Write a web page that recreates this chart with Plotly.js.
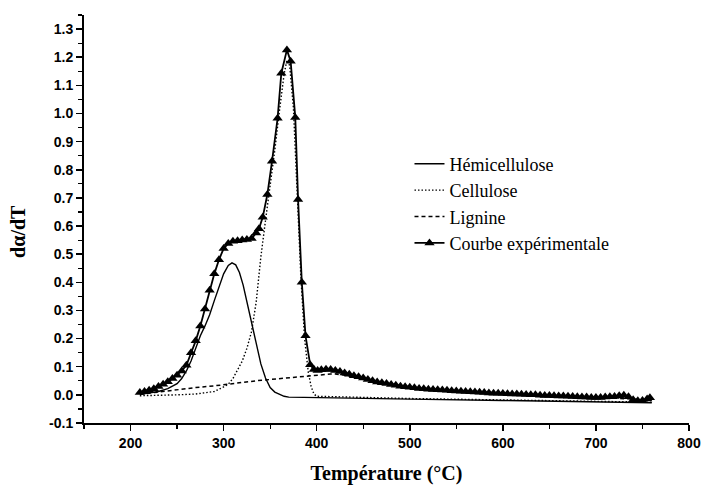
<!DOCTYPE html>
<html>
<head>
<meta charset="utf-8">
<script src="https://cdn.plot.ly/plotly-3.0.1.min.js"></script>
<style>
html,body{margin:0;padding:0;background:#fff;}
#chart{width:708px;height:492px;}
</style>
</head>
<body>
<div id="chart"></div>
<script>
// Experimental curve (triangles)
const expT = [210,215,220,225,230,235,240,245,250,255,260,265,270,275,280,285,290,295,300,305,310,315,320,325,330,335,338,342,347,352,358,362,368,372,377,380,384,388,393,397,401,405,410,415,420,425,430,435,440,445,450,455,460,465,470,475,480,485,490,495,500,505,510,515,520,525,530,535,540,545,550,555,560,565,570,575,580,585,590,595,600,605,610,615,620,625,630,635,640,645,650,655,660,665,670,675,680,685,690,695,700,705,710,715,720,725,730,735,740,745,750,755,758];
const expY = [0.008,0.012,0.016,0.022,0.030,0.038,0.047,0.058,0.070,0.085,0.105,0.150,0.192,0.245,0.305,0.372,0.430,0.480,0.520,0.538,0.546,0.548,0.550,0.552,0.556,0.575,0.590,0.631,0.712,0.830,0.983,1.143,1.226,1.186,0.986,0.694,0.400,0.210,0.107,0.090,0.087,0.089,0.091,0.090,0.087,0.083,0.078,0.073,0.068,0.064,0.060,0.055,0.050,0.046,0.043,0.040,0.037,0.034,0.031,0.029,0.027,0.025,0.023,0.022,0.020,0.019,0.018,0.017,0.016,0.015,0.014,0.013,0.012,0.011,0.010,0.009,0.008,0.007,0.006,0.006,0.005,0.004,0.003,0.003,0.002,0.001,0.000,0.000,-0.001,-0.002,-0.002,-0.003,-0.004,-0.004,-0.005,-0.006,-0.007,-0.008,-0.008,-0.009,-0.009,-0.009,-0.008,-0.007,-0.006,-0.003,-0.001,-0.007,-0.017,-0.021,-0.020,-0.015,-0.010];

// Hémicellulose (solid)
const hemT = [210,220,230,240,250,255,260,265,270,275,280,285,290,295,300,305,309,313,317,321,325,330,335,340,345,350,355,360,365,370,400,450,500,600,700,760];
const hemY = [0.002,0.006,0.012,0.022,0.040,0.058,0.085,0.120,0.165,0.210,0.245,0.285,0.335,0.385,0.430,0.460,0.469,0.462,0.435,0.390,0.330,0.255,0.185,0.110,0.060,0.026,0.010,0.001,-0.005,-0.008,-0.010,-0.013,-0.015,-0.020,-0.026,-0.028];

// Cellulose (dotted)
const celT = [210,230,250,270,280,290,300,305,310,315,320,325,330,335,340,345,350,355,360,365,368,371,375,379,383,387,391,394,397,400,450,500,600,700,760];
const celY = [-0.003,-0.002,0.000,0.003,0.007,0.012,0.028,0.038,0.058,0.088,0.120,0.165,0.225,0.330,0.490,0.620,0.740,0.870,1.010,1.140,1.190,1.170,1.020,0.740,0.420,0.200,0.080,0.030,0.003,-0.005,-0.010,-0.013,-0.018,-0.024,-0.026];

// Lignine (dashed)
const ligT = [210,230,250,270,290,305,320,335,350,370,390,405,415,420,430,440,450,460,470,480,490,500,520,540,560,580,600,620,640,660,680,700,720,740,760];
const ligY = [0.002,0.010,0.019,0.026,0.032,0.037,0.044,0.050,0.055,0.061,0.067,0.072,0.074,0.074,0.070,0.062,0.055,0.047,0.040,0.034,0.029,0.025,0.018,0.014,0.010,0.006,0.003,0.000,-0.003,-0.006,-0.009,-0.011,-0.012,-0.015,-0.018];

const names = ['Hémicellulose','Cellulose','Lignine','Courbe expérimentale'];
const xTicks = [200,300,400,500,600,700,800];
const yTicks = [-0.1,0.0,0.1,0.2,0.3,0.4,0.5,0.6,0.7,0.8,0.9,1.0,1.1,1.2,1.3];

const traces = [
  {x: hemT, y: hemY, name: names[0], mode: 'lines', line: {color: '#000', width: 1.4}},
  {x: celT, y: celY, name: names[1], mode: 'lines', line: {color: '#000', width: 1.4, dash: '1.5px,2px'}},
  {x: ligT, y: ligY, name: names[2], mode: 'lines', line: {color: '#000', width: 1.5, dash: '4px,3px'}},
  {x: expT, y: expY, name: names[3], mode: 'lines+markers', line: {color: '#000', width: 1.8},
   marker: {symbol: 'triangle-up', size: 9, color: '#000'}}
];

const tickFont = {family: 'Liberation Sans, Arial, sans-serif', size: 14, color: '#000', weight: 'bold'};

const layout = {
  width: 708, height: 492,
  margin: {l: 84, r: 19, t: 15, b: 69},
  paper_bgcolor: '#fff', plot_bgcolor: '#fff',
  showlegend: true,
  legend: {
    x: 0.538, y: 0.68, xanchor: 'left', yanchor: 'top',
    font: {family: 'Liberation Serif, Times New Roman, serif', size: 18, color: '#000'},
    bgcolor: 'rgba(0,0,0,0)', borderwidth: 0, tracegroupgap: 0
  },
  xaxis: {
    range: [150, 800], tickvals: xTicks, ticktext: xTicks.map(String),
    ticks: 'outside', ticklen: 6, tickwidth: 1.5, tickcolor: '#000',
    minor: {dtick: 50, ticks: 'outside', ticklen: 4, tickwidth: 1.2, tickcolor: '#000'},
    showline: true, linecolor: '#000', linewidth: 2, mirror: false,
    showgrid: false, zeroline: false, tickfont: tickFont,
    title: {text: 'Température (°C)', standoff: 16,
      font: {family: 'Liberation Serif, Times New Roman, serif', size: 20, color: '#000', weight: 'bold'}}
  },
  yaxis: {
    range: [-0.1, 1.35], tickvals: yTicks, ticktext: yTicks.map(v => v.toFixed(1)),
    ticks: 'outside', ticklen: 6, tickwidth: 1.5, tickcolor: '#000',
    minor: {dtick: 0.05, ticks: 'outside', ticklen: 4, tickwidth: 1.2, tickcolor: '#000'},
    showline: true, linecolor: '#000', linewidth: 2, mirror: false,
    showgrid: false, zeroline: false, tickfont: tickFont
  },
  annotations: [{
    text: 'dα/dT', xref: 'paper', yref: 'paper', x: -0.108, y: 0.47,
    xanchor: 'center', yanchor: 'middle', textangle: -90, showarrow: false,
    font: {family: 'Liberation Serif, Times New Roman, serif', size: 20, color: '#000', weight: 'bold'}
  }]
};

Plotly.newPlot('chart', traces, layout, {displayModeBar: false, staticPlot: true});
</script>
</body>
</html>
